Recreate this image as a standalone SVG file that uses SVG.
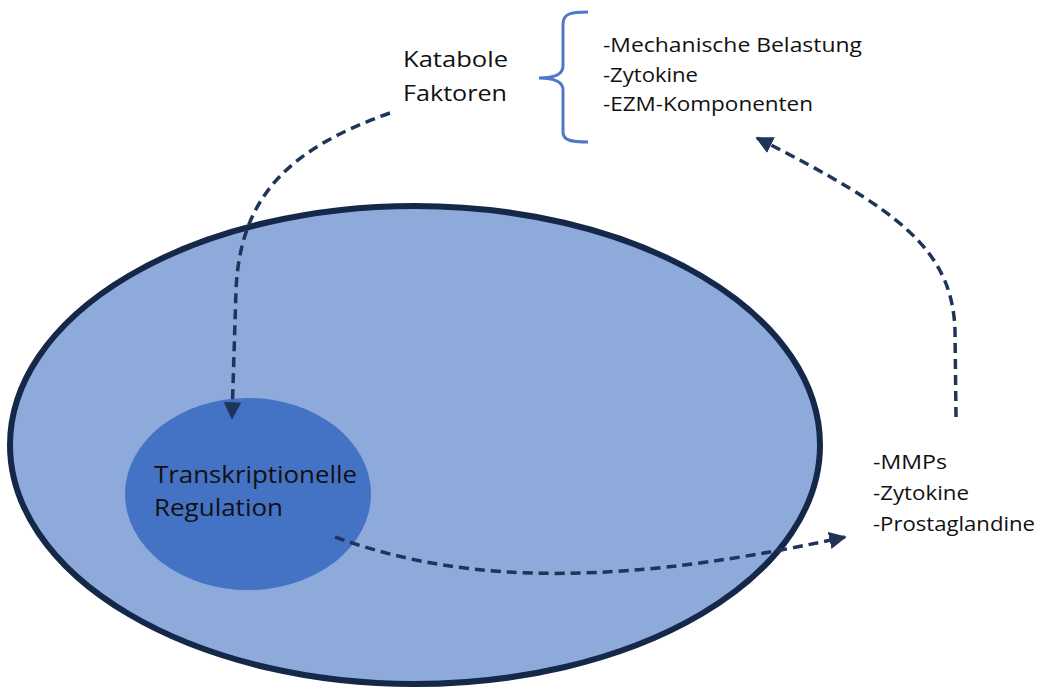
<svg xmlns="http://www.w3.org/2000/svg" width="1042" height="691" viewBox="0 0 1042 691">
<defs>
<style>
.t{font-family:"Open Sans","Noto Sans","Liberation Sans",sans-serif;fill:#111;}
.c{fill:none;stroke:#1f3458;stroke-width:3.5;stroke-dasharray:10 6;}
</style>
<marker id="ah" viewBox="0 0 10 10" refX="9" refY="5" markerWidth="5" markerHeight="5" orient="auto" markerUnits="strokeWidth">
<path d="M0,0 L10,5 L0,10 z" fill="#1f3458"/>
</marker>
</defs>
<rect width="1042" height="691" fill="#fff"/>
<g id="cell">
<ellipse cx="415" cy="445" rx="405" ry="239" fill="#8eaadb" stroke="#15284a" stroke-width="6"/>
</g>
<g id="nucleus">
<ellipse cx="248" cy="494" rx="123" ry="96" fill="#4472c4"/>
<text class="t" font-size="23" x="154" y="483" textLength="203" lengthAdjust="spacingAndGlyphs">Transkriptionelle</text>
<text class="t" font-size="23" x="154" y="516" textLength="129" lengthAdjust="spacingAndGlyphs">Regulation</text>
</g>
<g id="katabole">
<text class="t" font-size="22" x="403" y="67" textLength="105" lengthAdjust="spacingAndGlyphs">Katabole</text>
<text class="t" font-size="22" x="403" y="101" textLength="104" lengthAdjust="spacingAndGlyphs">Faktoren</text>
</g>
<g id="brace">
<path d="M588,12 C570,12 563,14 563,24 L563,66 C563,74 556,78 539,78 C556,78 563,82 563,90 L563,132 C563,140 570,142 588,142" fill="none" stroke="#4f79c4" stroke-width="3"/>
</g>
<g id="factors">
<text class="t" font-size="20" x="603" y="52" textLength="259" lengthAdjust="spacingAndGlyphs">-Mechanische  Belastung</text>
<text class="t" font-size="20" x="603" y="82" textLength="95" lengthAdjust="spacingAndGlyphs">-Zytokine</text>
<text class="t" font-size="20" x="603" y="111" textLength="210" lengthAdjust="spacingAndGlyphs">-EZM-Komponenten</text>
</g>
<g id="products">
<text class="t" font-size="20" x="873" y="469" textLength="74" lengthAdjust="spacingAndGlyphs">-MMPs</text>
<text class="t" font-size="20" x="873" y="500" textLength="96" lengthAdjust="spacingAndGlyphs">-Zytokine</text>
<text class="t" font-size="20" x="873" y="531" textLength="162" lengthAdjust="spacingAndGlyphs">-Prostaglandine</text>
</g>
<g id="connectors">
<path class="c" marker-end="url(#ah)" d="M390,113 C285,150 240,200 236,290 L232,418"/>
<path class="c" marker-end="url(#ah)" d="M335,537 C440,575 580,595 845,537"/>
<path class="c" marker-end="url(#ah)" d="M956,417 L955,330 C952,250 900,210 757,138"/>
</g>
</svg>
